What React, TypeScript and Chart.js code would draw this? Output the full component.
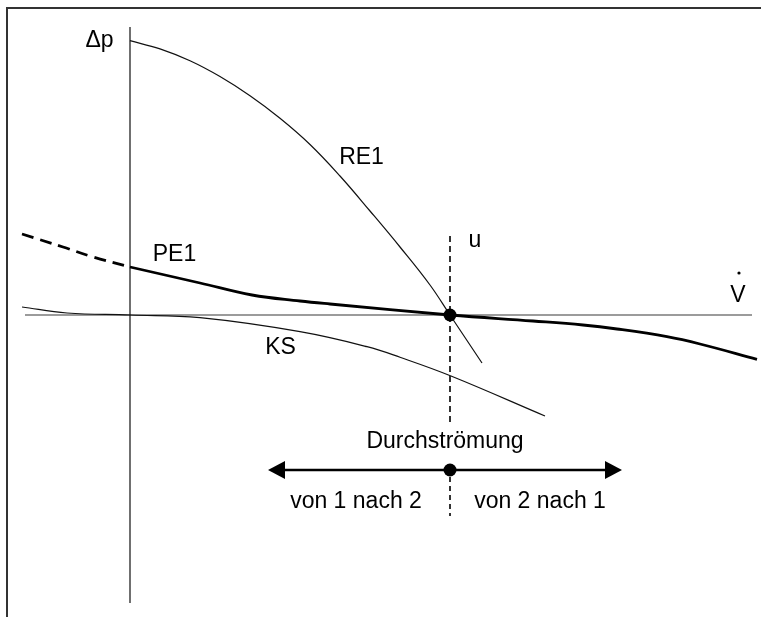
import React, { useEffect, useRef } from "react";
import { Chart, registerables } from "chart.js";

Chart.register(...registerables);

const WIDTH = 761;
const HEIGHT = 617;

// Axis extents (Δp vertical, V̇ horizontal)
const dpAxisY = [28.8, -28.8];
const vAxisX = [-10.5, 62.2];

// Rohrkennlinie RE1
const re1X = [0, 3, 6, 9, 12, 15, 18, 21, 24, 27, 30, 32, 35.2];
const re1Y = [27.43, 26.61, 25.42, 23.84, 21.92, 19.67, 17.05, 13.9, 10.4, 6.8, 3.0, 0, -4.8];

// PE1: dashed part left of the Δp axis, solid part right of it
const pe1BackX = [-10.8, -6.7, -3.7, 0];
const pe1BackY = [8.1, 6.8, 5.8, 4.8];
const pe1X = [0, 7, 12.2, 17, 20, 32, 40.3, 45.3, 48.7, 53.7, 57, 62.7];
const pe1Y = [4.8, 3.2, 2.0, 1.4, 1.1, 0, -0.6, -1.0, -1.4, -2.17, -2.9, -4.43];

// KS
const ksX = [-10.8, -6.3, 0, 7, 17, 23.7, 27, 32.1, 41.5];
const ksY = [0.8, 0.2, 0, -0.27, -1.67, -3.17, -4.23, -6.1, -10.1];

// Operating point u and the flow-direction marker
const uX = 32;
const uUpperY = [7.9, -10.8];
const uLowerY = [-16.2, -20.1];
const flowY = -15.5;
const flowArrowX = [13.8, 49.2];
const pointsX = [uX, uX];
const pointsY = [0, flowY];

// Text annotations, anchored in chart units (centre x, baseline y)
const labelText = ["Δp", "RE1", "PE1", "u", "V", "KS", "Durchströmung", "von 1 nach 2", "von 2 nach 1"];
const labelX = [-3.05, 23.15, 4.45, 34.5, 60.8, 15.05, 31.5, 22.6, 41.0];
const labelY = [26.8, 15.1, 5.4, 6.83, 1.3, -3.9, -13.3, -19.33, -19.33];
// dot over the V (volume flow)
const vDot = { x: 60.9, y: 4.2 };

const FONT = '23px "Liberation Sans", Arial, sans-serif';

const zip = (xs: number[], ys: number[]) => xs.map((x, i) => ({ x, y: ys[i] }));

const annotations = {
  id: "annotations",
  afterDatasetsDraw(chart: any) {
    const { ctx, scales } = chart;
    const sx = scales.x;
    const sy = scales.y;
    ctx.save();

    // flow arrow with heads at both ends
    const yA = sy.getPixelForValue(flowY);
    const xL = sx.getPixelForValue(flowArrowX[0]);
    const xR = sx.getPixelForValue(flowArrowX[1]);
    const headLen = 17;
    const headHalf = 9;
    ctx.strokeStyle = "#000";
    ctx.fillStyle = "#000";
    ctx.lineWidth = 2.5;
    ctx.beginPath();
    ctx.moveTo(xL + headLen - 1, yA);
    ctx.lineTo(xR - headLen + 1, yA);
    ctx.stroke();
    ctx.beginPath();
    ctx.moveTo(xL, yA);
    ctx.lineTo(xL + headLen, yA - headHalf);
    ctx.lineTo(xL + headLen, yA + headHalf);
    ctx.closePath();
    ctx.fill();
    ctx.beginPath();
    ctx.moveTo(xR, yA);
    ctx.lineTo(xR - headLen, yA - headHalf);
    ctx.lineTo(xR - headLen, yA + headHalf);
    ctx.closePath();
    ctx.fill();

    // labels
    ctx.font = FONT;
    ctx.textAlign = "center";
    ctx.textBaseline = "alphabetic";
    ctx.fillStyle = "#000";
    labelText.forEach((t, i) => {
      ctx.fillText(t, sx.getPixelForValue(labelX[i]), sy.getPixelForValue(labelY[i]));
    });
    ctx.beginPath();
    ctx.arc(sx.getPixelForValue(vDot.x), sy.getPixelForValue(vDot.y), 1.6, 0, Math.PI * 2);
    ctx.fill();

    ctx.restore();
  },
};

export default function App() {
  const canvasRef = useRef<HTMLCanvasElement | null>(null);

  useEffect(() => {
    if (!canvasRef.current) return;
    const thin = { showLine: true, pointRadius: 0, borderColor: "#111", borderWidth: 1.2, tension: 0.4 };
    const chart = new Chart(canvasRef.current, {
      type: "scatter",
      data: {
        datasets: [
          {
            label: "Punkte",
            data: zip(pointsX, pointsY),
            showLine: false,
            pointRadius: 6.5,
            pointBackgroundColor: "#000",
            pointBorderWidth: 0,
          },
          {
            label: "PE1",
            data: zip(pe1X, pe1Y),
            showLine: true,
            pointRadius: 0,
            borderColor: "#000",
            borderWidth: 2.8,
            tension: 0.4,
          },
          {
            label: "PE1 (Rückströmung)",
            data: zip(pe1BackX, pe1BackY),
            showLine: true,
            pointRadius: 0,
            borderColor: "#000",
            borderWidth: 2.8,
            borderDash: [12, 7],
            tension: 0.4,
          },
          { label: "RE1", data: zip(re1X, re1Y), ...thin },
          { label: "KS", data: zip(ksX, ksY), ...thin },
          {
            label: "u oben",
            data: zip([uX, uX], uUpperY),
            showLine: true,
            pointRadius: 0,
            borderColor: "#000",
            borderWidth: 1.6,
            borderDash: [6, 4],
          },
          {
            label: "u unten",
            data: zip([uX, uX], uLowerY),
            showLine: true,
            pointRadius: 0,
            borderColor: "#000",
            borderWidth: 1.6,
            borderDash: [5, 4],
          },
          {
            label: "Δp-Achse",
            data: zip([0, 0], dpAxisY),
            showLine: true,
            pointRadius: 0,
            borderColor: "#111",
            borderWidth: 1.2,
          },
          {
            label: "V-Achse",
            data: zip(vAxisX, [0, 0]),
            showLine: true,
            pointRadius: 0,
            borderColor: "#7a7a7a",
            borderWidth: 1.6,
          },
        ],
      },
      options: {
        responsive: false,
        animation: false,
        events: [],
        layout: { padding: 0, autoPadding: false },
        plugins: { legend: { display: false }, tooltip: { enabled: false } },
        scales: {
          x: { type: "linear", min: -13, max: 63.1, display: false },
          y: { type: "linear", min: -30.2, max: 31.5, display: false },
        },
      },
      plugins: [annotations],
    });
    return () => chart.destroy();
  }, []);

  return (
    <div
      style={{
        position: "absolute",
        left: 0,
        top: 0,
        width: WIDTH,
        height: HEIGHT,
        overflow: "hidden",
        background: "#fff",
      }}
    >
      <div
        style={{
          position: "absolute",
          left: 6,
          top: 7,
          width: 820,
          height: 700,
          border: "2px solid #333",
        }}
      />
      <canvas
        ref={canvasRef}
        width={WIDTH}
        height={HEIGHT}
        style={{ position: "absolute", left: 0, top: 0 }}
      />
    </div>
  );
}
